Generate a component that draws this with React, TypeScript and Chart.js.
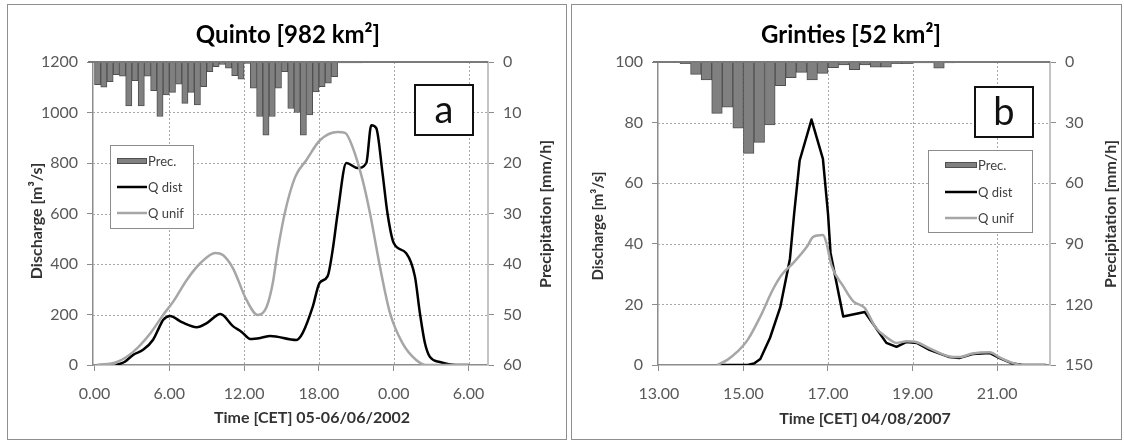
import React, { useEffect, useRef } from "react";
import { Chart, registerables } from "chart.js";

Chart.register(...registerables);
Chart.defaults.font.family = "Lato, 'Open Sans', sans-serif";

// ---------- Panel a : Quinto ----------
const titleA = "Quinto [982 km²]";
const xTitleA = "Time [CET] 05-06/06/2002";
const xTicksA = [0, 6, 12, 18, 24, 30];
const xTickLabelsA = ["0.00", "6.00", "12.00", "18.00", "0.00", "6.00"];
const precStartA = 0; // hours
const precStepA = 0.5; // hours per bar
const precA = [
  4.5, 5.0, 3.9, 2.5, 2.8, 8.7, 3.7, 8.7, 2.8, 5.7, 10.8, 6.5, 6.0, 4.4, 8.2, 6.0, 8.5, 4.9, 1.9, 0.9, 0.5,
  1.2, 2.7, 3.4, 0.3, 5.2, 10.8, 14.5, 10.8, 5.2, 1.9, 9.2, 10.0, 14.5, 10.5, 5.9, 4.9, 4.2, 2.9, 0.2, 0.2,
  0.2, 0.2,
];
const distTimesA = [
  1.7, 2.4, 3.1, 3.9, 4.7, 5.2, 5.5, 6.05, 7.0, 8.2, 9.0, 10.1, 11.1, 11.8, 12.5, 13.3, 14.1, 16.2, 16.7, 17.5,
  18.05, 18.7, 19.1, 19.5, 20.2, 21.1, 21.8, 22.2, 22.6, 23.1, 23.5, 24.0, 25.0, 25.7, 26.1, 26.5, 26.9, 27.7,
  29.0, 30.0,
];
const distQA = [
  0, 12, 40, 60, 100, 150, 178, 194, 170, 150, 166, 202, 154, 131, 103, 107, 115, 99, 127, 230, 325, 352, 455,
  600, 800, 780, 800, 950, 938, 760, 600, 483, 443, 350, 205, 87, 32, 12, 0, 0,
];
const unifTimesA = [
  0.2, 1.8, 3.1, 4.5, 5.5, 6.3, 7.4, 8.5, 9.7, 10.3, 11.1, 12.2, 13.1, 13.8, 14.3, 14.7, 15.3, 16.1, 17.0, 18.1,
  19.5, 20.1, 20.7, 21.5, 22.1, 22.9, 23.7, 24.7, 25.8, 26.6, 30.0,
];
const unifQA = [
  0, 12, 52, 127, 198, 250, 337, 404, 444, 436, 384, 257, 198, 230, 325, 455, 610, 745, 812, 891, 923, 919, 863,
  733, 600, 388, 206, 87, 20, 0, 0,
];

// ---------- Panel b : Grinties ----------
const titleB = "Grinties [52 km²]";
const xTitleB = "Time [CET] 04/08/2007";
const xTicksB = [13, 15, 17, 19, 21];
const xTickLabelsB = ["13.00", "15.00", "17.00", "19.00", "21.00"];
const precStartB = 13;
const precStepB = 0.25;
const precB = [
  0, 0, 0.8, 6.1, 8.9, 25.4, 22.4, 32.8, 45.2, 39.8, 31.2, 11.7, 7.8, 5.1, 8.9, 5.6, 2.8, 1.5, 3.8, 1.5, 2.5, 2.5,
  0.8, 0.8, 0.5, 0.5, 3.0, 0.5,
];
const distTimesB = [
  14.45, 15.1, 15.25, 15.4, 15.63, 15.87, 16.1, 16.2, 16.33, 16.61, 16.88, 17.0, 17.06, 17.36, 17.87, 18.38,
  18.62, 18.86, 19.1, 19.4, 19.87, 20.1, 20.42, 20.82, 21.06, 21.34, 21.6, 22.15,
];
const distQB = [
  0, 0, 0.5, 2, 9, 19, 35, 50, 67.5, 81, 68, 50, 37, 16, 17.5, 7.3, 6, 7.6, 7.3, 5, 2.6, 2.3, 3.6, 4, 2.3, 0.6,
  0, 0,
];
const unifTimesB = [
  14.38, 14.62, 14.85, 15.1, 15.4, 15.7, 15.92, 16.18, 16.5, 16.65, 16.88, 16.96, 17.08, 17.36, 17.6, 17.87,
  18.12, 18.4, 18.62, 18.86, 19.1, 19.4, 19.87, 20.1, 20.42, 20.82, 21.06, 21.34, 21.6, 22.15,
];
const unifQB = [
  0, 1.7, 4.3, 8.3, 16, 25, 30, 33.7, 39, 42.3, 42.9, 40.5, 33, 26, 21, 18.8, 12.5, 9, 7.3, 7.8, 7.5, 5.5, 2.8,
  2.6, 3.8, 4.2, 2.5, 0.8, 0, 0,
];

const legendLabels = ["Prec.", "Q dist", "Q unif"];
const yTitle = "Discharge [m³/s]";
const y2Title = "Precipitation [mm/h]";

type Spec = {
  box: { left: number; top: number; width: number; height: number };
  title: string;
  xTitle: string;
  xMin: number;
  xMax: number;
  xTicks: number[];
  xTickLabels: string[];
  yMax: number;
  yStep: number;
  y2Max: number;
  y2Step: number;
  prec: number[];
  precStart: number;
  precStep: number;
  distT: number[];
  distQ: number[];
  unifT: number[];
  unifQ: number[];
  smoothDist: boolean;
  smoothUnif: boolean;
  leftW: number;
  rightW: number;
  bottomH: number;
  padTop: number;
  titlePos: [number, number];
  yTitlePos: [number, number];
  yTitleSize: number;
  y2TitlePos: [number, number];
  xTitlePos: [number, number];
  legendBox: [number, number, number, number];
  legendRows: number[];
  legendSw: [number, number];
  letter: string;
  letterBox: [number, number, number, number];
};

const specA: Spec = {
  box: { left: 7, top: 4, width: 560, height: 436 },
  title: titleA,
  xTitle: xTitleA,
  xMin: -0.12,
  xMax: 31.56,
  xTicks: xTicksA,
  xTickLabels: xTickLabelsA,
  yMax: 1200,
  yStep: 200,
  y2Max: 60,
  y2Step: 10,
  prec: precA,
  precStart: precStartA,
  precStep: precStepA,
  distT: distTimesA,
  distQ: distQA,
  unifT: unifTimesA,
  unifQ: unifQA,
  smoothDist: true,
  smoothUnif: true,
  leftW: 85,
  rightW: 78,
  bottomH: 74,
  padTop: 57,
  titlePos: [280, 30],
  yTitlePos: [29, 216],
  yTitleSize: 16,
  y2TitlePos: [538, 209],
  xTitlePos: [304, 413],
  legendBox: [102, 140, 83, 83],
  legendRows: [156, 182, 208],
  legendSw: [109, 139],
  letter: "a",
  letterBox: [407, 80, 58, 50],
};

const specB: Spec = {
  box: { left: 571, top: 4, width: 551, height: 436 },
  title: titleB,
  xTitle: xTitleB,
  xMin: 12.98,
  xMax: 22.25,
  xTicks: xTicksB,
  xTickLabels: xTickLabelsB,
  yMax: 100,
  yStep: 20,
  y2Max: 150,
  y2Step: 30,
  prec: precB,
  precStart: precStartB,
  precStep: precStepB,
  distT: distTimesB,
  distQ: distQB,
  unifT: unifTimesB,
  unifQ: unifQB,
  smoothDist: false,
  smoothUnif: true,
  leftW: 86,
  rightW: 71,
  bottomH: 74,
  padTop: 57,
  titlePos: [279, 30],
  yTitlePos: [26, 221],
  yTitleSize: 15,
  y2TitlePos: [539, 209],
  xTitlePos: [293, 414],
  legendBox: [356, 145, 104, 82],
  legendRows: [160, 187, 213],
  legendSw: [373, 405],
  letter: "b",
  letterBox: [403, 82, 58, 50],
};

const TICK_COLOR = "#595959";
const AXIS_COLOR = "#8c8c8c";
const GRID_COLOR = "#a8a8a8";
const BAR_FILL = "#808080";
const BAR_EDGE = "#505050";
const DIST_COLOR = "#000000";
const UNIF_COLOR = "#a6a6a6";
const TEXT_DARK = "#333333";

function overlayPlugin(s: Spec) {
  return {
    id: "overlay" + s.letter,
    beforeDatasetsDraw(chart: any) {
      const { ctx, chartArea: a, scales } = chart;
      ctx.save();
      ctx.strokeStyle = GRID_COLOR;
      ctx.lineWidth = 1;
      ctx.setLineDash([2, 2]);
      scales.y.ticks.forEach((t: any) => {
        if (t.value <= 0 || t.value >= s.yMax) return;
        const y = Math.round(scales.y.getPixelForValue(t.value)) + 0.5;
        ctx.beginPath();
        ctx.moveTo(a.left, y);
        ctx.lineTo(a.right, y);
        ctx.stroke();
      });
      s.xTicks.forEach((v) => {
        const x = Math.round(scales.x.getPixelForValue(v)) + 0.5;
        if (x < a.left + 3 || x > a.right - 2) return;
        ctx.beginPath();
        ctx.moveTo(x, a.top);
        ctx.lineTo(x, a.bottom);
        ctx.stroke();
      });
      ctx.restore();
    },
    afterDatasetsDraw(chart: any) {
      const { ctx, chartArea: a } = chart;
      ctx.save();
      ctx.strokeStyle = "#7a7a7a";
      ctx.lineWidth = 2;
      ctx.beginPath();
      ctx.moveTo(a.left - 5, a.top);
      ctx.lineTo(a.right, a.top);
      ctx.stroke();
      ctx.restore();
    },
    afterDraw(chart: any) {
      const ctx: CanvasRenderingContext2D = chart.ctx;
      ctx.save();
      // main title
      ctx.fillStyle = "#000";
      ctx.font = "bold 24px Lato";
      ctx.textAlign = "center";
      ctx.textBaseline = "middle";
      ctx.fillText(s.title, s.titlePos[0], s.titlePos[1]);

      // axis titles
      ctx.fillStyle = TEXT_DARK;
      ctx.font = `bold ${s.yTitleSize}px Lato`;
      ctx.save();
      ctx.translate(s.yTitlePos[0], s.yTitlePos[1]);
      ctx.rotate(-Math.PI / 2);
      ctx.fillText(yTitle, 0, 0);
      ctx.restore();

      ctx.font = "bold 16px Lato";
      ctx.save();
      ctx.translate(s.y2TitlePos[0], s.y2TitlePos[1]);
      ctx.rotate(-Math.PI / 2);
      ctx.fillText(y2Title, 0, 0);
      ctx.restore();

      ctx.fillText(s.xTitle, s.xTitlePos[0], s.xTitlePos[1]);

      // legend
      const [lx, ly, lw, lh] = s.legendBox;
      ctx.fillStyle = "#fff";
      ctx.fillRect(lx, ly, lw, lh);
      ctx.strokeStyle = "#8c8c8c";
      ctx.lineWidth = 1;
      ctx.strokeRect(lx + 0.5, ly + 0.5, lw, lh);
      const [sx0, sx1] = s.legendSw;
      ctx.fillStyle = BAR_FILL;
      ctx.fillRect(sx0, s.legendRows[0] - 3, sx1 - sx0, 6);
      ctx.strokeStyle = BAR_EDGE;
      ctx.strokeRect(sx0 + 0.5, s.legendRows[0] - 2.5, sx1 - sx0 - 1, 5);
      ctx.lineWidth = 2.5;
      ctx.strokeStyle = DIST_COLOR;
      ctx.beginPath();
      ctx.moveTo(sx0, s.legendRows[1]);
      ctx.lineTo(sx1, s.legendRows[1]);
      ctx.stroke();
      ctx.strokeStyle = UNIF_COLOR;
      ctx.beginPath();
      ctx.moveTo(sx0, s.legendRows[2]);
      ctx.lineTo(sx1, s.legendRows[2]);
      ctx.stroke();
      ctx.fillStyle = "#404040";
      ctx.font = "13px Lato";
      ctx.textAlign = "left";
      legendLabels.forEach((t, i) => ctx.fillText(t, sx1 + 1, s.legendRows[i] + 1));

      // letter box
      const [bx, by, bw, bh] = s.letterBox;
      ctx.fillStyle = "#fff";
      ctx.fillRect(bx, by, bw, bh);
      ctx.strokeStyle = "#111";
      ctx.lineWidth = 2;
      ctx.strokeRect(bx, by, bw, bh);
      ctx.fillStyle = "#111";
      ctx.font = "38px Lato";
      ctx.textAlign = "center";
      ctx.fillText(s.letter, bx + bw / 2, by + bh / 2 + 1);
      ctx.restore();
    },
  };
}

function buildChart(canvas: HTMLCanvasElement, s: Spec) {
  const bars = s.prec.map((v, i) => ({ x: s.precStart + s.precStep * (i + 0.5), y: v }));
  const dist = s.distT.map((t, i) => ({ x: t, y: s.distQ[i] }));
  const unif = s.unifT.map((t, i) => ({ x: t, y: s.unifQ[i] }));
  const tickFont = { size: 16, family: "Lato" };
  const shape = (smooth: boolean) => (smooth ? { cubicInterpolationMode: "monotone" } : { tension: 0 });
  return new Chart(canvas, {
    type: "bar",
    data: {
      datasets: [
        {
          type: "bar",
          label: legendLabels[0],
          data: bars as any,
          xAxisID: "x",
          yAxisID: "y2",
          backgroundColor: BAR_FILL,
          borderColor: BAR_EDGE,
          borderWidth: 1,
          barPercentage: 1,
          categoryPercentage: 1,
          order: 3,
        },
        {
          type: "line",
          label: legendLabels[1],
          data: dist as any,
          xAxisID: "x",
          yAxisID: "y",
          borderColor: DIST_COLOR,
          borderWidth: 2.5,
          pointRadius: 0,
          borderJoinStyle: "round",
          ...shape(s.smoothDist),
          order: 2,
        },
        {
          type: "line",
          label: legendLabels[2],
          data: unif as any,
          xAxisID: "x",
          yAxisID: "y",
          borderColor: UNIF_COLOR,
          borderWidth: 2.5,
          pointRadius: 0,
          borderJoinStyle: "round",
          ...shape(s.smoothUnif),
          order: 1,
        },
      ] as any,
    },
    options: {
      responsive: false,
      animation: false,
      events: [],
      layout: { padding: { top: s.padTop, left: 0, right: 0, bottom: 0 } },
      plugins: { legend: { display: false }, title: { display: false }, tooltip: { enabled: false } },
      scales: {
        x: {
          type: "linear",
          min: s.xMin,
          max: s.xMax,
          offset: false,
          afterBuildTicks: (sc: any) => {
            sc.ticks = s.xTicks.map((v) => ({ value: v }));
          },
          afterFit: (sc: any) => {
            sc.height = s.bottomH;
          },
          ticks: {
            autoSkip: false,
            maxRotation: 0,
            color: TICK_COLOR,
            font: tickFont,
            padding: 13,
            callback: (v: any) => {
              const i = s.xTicks.indexOf(Number(v));
              return i >= 0 ? s.xTickLabels[i] : "";
            },
          },
          grid: {
            offset: false,
            drawOnChartArea: false,
            color: AXIS_COLOR,
            lineWidth: 1,
            tickColor: AXIS_COLOR,
            tickLength: 6,
          },
          border: { color: AXIS_COLOR, width: 1.5 },
        },
        y: {
          type: "linear",
          position: "left",
          min: 0,
          max: s.yMax,
          afterFit: (sc: any) => {
            sc.width = s.leftW;
          },
          ticks: {
            stepSize: s.yStep,
            color: TICK_COLOR,
            font: tickFont,
            padding: 9,
            callback: (v: any) => String(v),
          },
          grid: {
            drawOnChartArea: false,
            color: AXIS_COLOR,
            lineWidth: 1,
            tickColor: AXIS_COLOR,
            tickLength: 6,
          },
          border: { color: AXIS_COLOR, width: 1.5 },
        },
        y2: {
          type: "linear",
          position: "right",
          reverse: true,
          min: 0,
          max: s.y2Max,
          afterFit: (sc: any) => {
            sc.width = s.rightW;
          },
          ticks: {
            stepSize: s.y2Step,
            color: TICK_COLOR,
            font: tickFont,
            padding: 9,
            callback: (v: any) => String(v),
          },
          grid: {
            drawOnChartArea: false,
            color: AXIS_COLOR,
            tickColor: AXIS_COLOR,
            tickLength: 6,
          },
          border: { color: "#c4c4c4", width: 2 },
        },
      },
    } as any,
    plugins: [overlayPlugin(s) as any],
  });
}

function Panel({ spec }: { spec: Spec }) {
  const ref = useRef<HTMLCanvasElement>(null);
  const w = spec.box.width - 2;
  const h = spec.box.height - 2;
  useEffect(() => {
    const chart = buildChart(ref.current as HTMLCanvasElement, spec);
    return () => chart.destroy();
  }, [spec]);
  return (
    <div
      style={{
        position: "absolute",
        left: spec.box.left,
        top: spec.box.top,
        width: spec.box.width,
        height: spec.box.height,
        border: "1px solid #8f8f8f",
        boxSizing: "border-box",
        background: "#fff",
      }}
    >
      <canvas ref={ref} width={w} height={h} style={{ display: "block", width: w, height: h }} />
    </div>
  );
}

export default function App() {
  return (
    <div style={{ position: "absolute", left: 0, top: 0, width: 1124, height: 441, background: "#fff" }}>
      <Panel spec={specA} />
      <Panel spec={specB} />
    </div>
  );
}
